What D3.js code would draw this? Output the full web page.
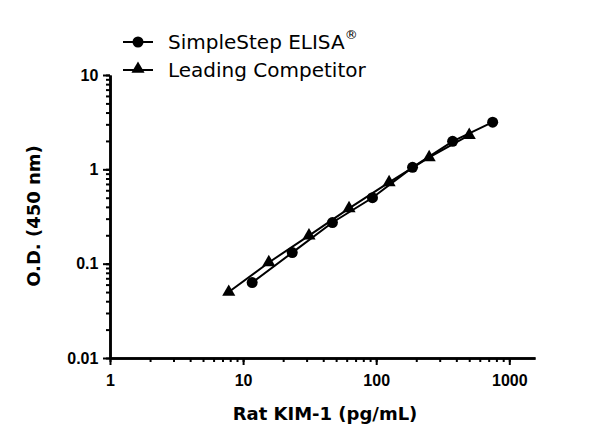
<!DOCTYPE html>
<html><head><meta charset="utf-8">
<script src="https://d3js.org/d3.v7.min.js"></script>
<style>body{margin:0;background:#fff}svg{font-family:"DejaVu Sans",sans-serif}</style>
</head><body><svg id="c" width="600" height="445"></svg>
<script>
const seriesNames = ["SimpleStep ELISA", "Leading Competitor"];
const simpleX = [11.7, 23.4, 46.9, 93.75, 187.5, 375, 750];
const simpleY = [0.063, 0.131, 0.273, 0.50, 1.05, 1.98, 3.16];
const compX = [7.8, 15.6, 31.25, 62.5, 125, 250, 500];
const compY = [0.050, 0.103, 0.198, 0.385, 0.727, 1.34, 2.3];
const xTicks = [1, 10, 100, 1000];
const yTicks = [0.01, 0.1, 1, 10];

const svg = d3.select("#c");
const x = d3.scaleLog().domain([1, 1560]).range([110, 535]);
const y = d3.scaleLog().domain([0.01, 10]).range([358, 75]);

const minorX = [], minorY = [];
for (let d = 1; d <= 1000; d *= 10) for (let k = 1; k < 10; k++) if (d * k <= 1560) minorX.push(d * k);
for (let d = 0.01; d < 9; d *= 10) for (let k = 1; k <= 10; k++) minorY.push(d * k);

const xa = svg.append("g").attr("transform", "translate(0,358)");
xa.call(d3.axisBottom(x).tickValues(minorX).tickFormat("").tickSize(4).tickSizeOuter(0));
xa.append("g").call(d3.axisBottom(x).tickValues(xTicks).tickFormat(d3.format("d")).tickSize(7).tickSizeOuter(0));
const ya = svg.append("g").attr("transform", "translate(110,0)");
ya.call(d3.axisLeft(y).tickValues(minorY).tickFormat("").tickSize(4).tickSizeOuter(0));
ya.append("g").call(d3.axisLeft(y).tickValues(yTicks).tickFormat(d => d >= 1 ? d3.format("d")(d) : String(+d.toFixed(2))).tickSize(7).tickSizeOuter(0));
svg.selectAll(".domain").attr("stroke-width", 2.5);
svg.selectAll(".tick line").attr("stroke-width", 2);
svg.selectAll(".tick text").attr("font-size", 16).attr("font-weight", "bold").attr("fill", "#000");
xa.selectAll("text").attr("dy", "1.15em");
ya.selectAll("text").attr("dx", "-0.1em");

const line = d3.line().x(d => x(d[0])).y(d => y(d[1]));
const s1 = simpleX.map((v, i) => [v, simpleY[i]]);
const s2 = compX.map((v, i) => [v, compY[i]]);
svg.append("path").datum(s1).attr("d", line).attr("fill", "none").attr("stroke", "#000").attr("stroke-width", 2);
svg.append("path").datum(s2).attr("d", line).attr("fill", "none").attr("stroke", "#000").attr("stroke-width", 2);
svg.selectAll(".c").data(s1).join("circle").attr("cx", d => x(d[0])).attr("cy", d => y(d[1])).attr("r", 5.5);
const tri = d3.symbol().type(d3.symbolTriangle).size(75);
svg.selectAll(".t").data(s2).join("path").attr("d", tri).attr("transform", d => `translate(${x(d[0])},${y(d[1])})`);

// legend
const lg = svg.append("g");
lg.append("line").attr("x1", 123).attr("x2", 153).attr("y1", 42).attr("y2", 42).attr("stroke", "#000").attr("stroke-width", 2);
lg.append("circle").attr("cx", 138).attr("cy", 42).attr("r", 5.5);
lg.append("line").attr("x1", 123).attr("x2", 153).attr("y1", 70).attr("y2", 70).attr("stroke", "#000").attr("stroke-width", 2);
lg.append("path").attr("d", tri).attr("transform", "translate(138,69)");
const t1 = lg.append("text").attr("x", 168).attr("y", 49).attr("font-size", 20).text(seriesNames[0]);
t1.append("tspan").attr("dy", -10).attr("font-size", 13).text("®");
lg.append("text").attr("x", 168).attr("y", 77).attr("font-size", 20).text(seriesNames[1]);

svg.append("text").attr("x", 325).attr("y", 420).attr("text-anchor", "middle").attr("font-size", 18).attr("font-weight", "bold").text("Rat KIM-1 (pg/mL)");
svg.append("text").attr("transform", "translate(40,216) rotate(-90)").attr("text-anchor", "middle").attr("font-size", 18).attr("font-weight", "bold").text("O.D. (450 nm)");
</script></body></html>
